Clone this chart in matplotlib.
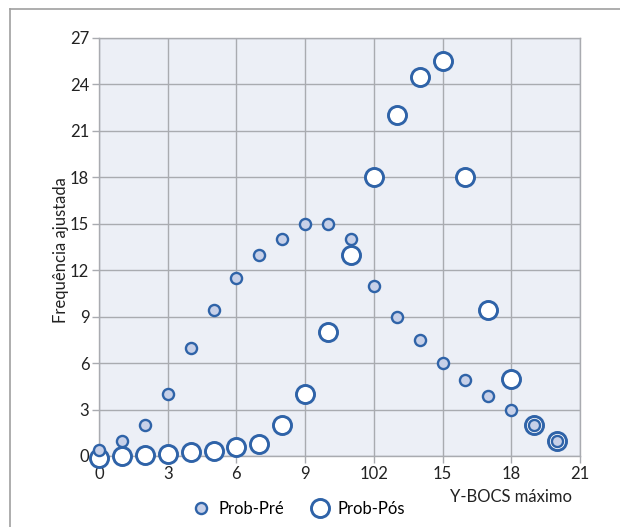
import matplotlib
matplotlib.use('Agg')
import matplotlib.pyplot as plt
from matplotlib.lines import Line2D

plt.rcParams['font.family'] = ['Lato', 'DejaVu Sans']

# Y-BOCS máximo
x_vals = list(range(21))
prob_pre = [0.4, 1, 2, 4, 7, 9.4, 11.5, 13, 14, 15, 15, 14, 11, 9, 7.5, 6, 4.9, 3.9, 3, 2, 1]
prob_pos = [-0.1, 0, 0.05, 0.1, 0.25, 0.35, 0.55, 0.8, 2, 4, 8, 13, 18, 22, 24.5, 25.5, 18, 9.4, 5, 2, 1]

x_ticks = [0, 3, 6, 9, 12, 15, 18, 21]
x_tick_labels = ['0', '3', '6', '9', '102', '15', '18', '21']
y_ticks = [0, 3, 6, 9, 12, 15, 18, 21, 24, 27]

blue = '#2f63a8'
pre_fill = '#c7d0e8'
bg = '#eceff6'
grid_c = '#a9abb0'
txt_c = '#222222'
fs = 12

fig = plt.figure(figsize=(6.2, 5.27), dpi=100)
ax = fig.add_axes([99 / 620, 1 - 456 / 527, 481 / 620, 418 / 527])
ax.set_facecolor(bg)

ax.plot(x_vals, prob_pos, 'o', ms=13, mfc='white', mec=blue, mew=2.1,
        zorder=3, clip_on=False, linestyle='none')
ax.plot(x_vals, prob_pre, 'o', ms=8, mfc=pre_fill, mec=blue, mew=1.7,
        zorder=4, clip_on=False, linestyle='none')

ax.set_xlim(0, 21)
ax.set_ylim(0, 27)
ax.set_xticks(x_ticks)
ax.set_xticklabels(x_tick_labels)
ax.set_yticks(y_ticks)
ax.grid(True, color=grid_c, linewidth=1.0)
ax.set_axisbelow(True)
for s in ax.spines.values():
    s.set_color(grid_c)
    s.set_linewidth(1.0)
ax.tick_params(axis='both', colors=grid_c, labelcolor=txt_c, labelsize=fs,
               length=5, width=1.0, pad=2)

fig.text(61 / 620, 1 - 250 / 527, 'Frequência ajustada', rotation=90,
         ha='center', va='center', fontsize=fs, color=txt_c)
fig.text(511 / 620, 1 - 497 / 527, 'Y-BOCS máximo', ha='center', va='center',
         fontsize=fs, color=txt_c)

# outer frame (left and top edges only)
fig.add_artist(Line2D([10 / 620, 10 / 620], [0, 1 - 9 / 527], transform=fig.transFigure,
                      color='#a0a0a0', lw=1.2))
fig.add_artist(Line2D([10 / 620, 1], [1 - 9 / 527, 1 - 9 / 527], transform=fig.transFigure,
                      color='#a0a0a0', lw=1.2))

handles = [
    Line2D([], [], marker='o', ms=8, mfc=pre_fill, mec=blue, mew=1.7, linestyle='none'),
    Line2D([], [], marker='o', ms=13, mfc='white', mec=blue, mew=2.1, linestyle='none'),
]
fig.legend(handles, ['Prob-Pré', 'Prob-Pós'], loc='center', bbox_to_anchor=(298 / 620, 1 - 509 / 527),
           ncol=2, frameon=False, fontsize=fs, handletextpad=0.5, columnspacing=1.5,
           handlelength=1.2)

fig.savefig('out.png', dpi=100)
